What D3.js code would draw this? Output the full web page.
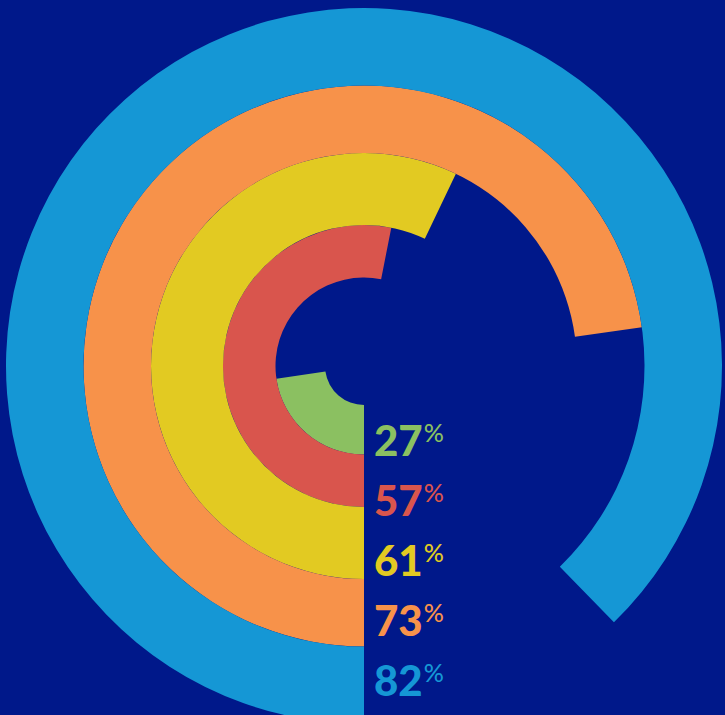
<!DOCTYPE html>
<html>
<head>
<meta charset="utf-8">
<script src="https://cdn.jsdelivr.net/npm/d3@7"></script>
<style>
  html, body { margin: 0; padding: 0; background: #00188a; }
  svg { display: block; }
</style>
</head>
<body>
<div id="chart"></div>
<script>
// values printed next to each ring (inner -> outer)
const labels = [27, 57, 61, 73, 82];
// share of the full circle each ring actually sweeps
const sweeps = [22.7, 53.1, 57.1, 72.8, 87.7];
const colors = ["#8bc061", "#d9554d", "#e2ca22", "#f7924a", "#1597d5"];

const width = 725;
const height = 715;
const cx = 364;
const cy = 366;
// ring boundaries, inner -> outer (rings touch each other)
const edges = [39, 88.5, 141, 213, 280.5, 358];

const svg = d3.select("#chart").append("svg")
  .attr("width", width)
  .attr("height", height);

svg.append("rect").attr("width", width).attr("height", height).attr("fill", "#00188a");

// 0% sits at 6 o'clock, rings run clockwise
const angle = d3.scaleLinear().domain([0, 100]).range([Math.PI, 3 * Math.PI]);
const arc = d3.arc();

const rings = labels.map((v, i) => ({
  value: v,
  sweep: sweeps[i],
  color: colors[i],
  inner: edges[i],
  outer: edges[i + 1]
}));

const g = svg.append("g").attr("transform", `translate(${cx},${cy})`);

g.selectAll("path.ring")
  .data(rings)
  .join("path")
  .attr("class", "ring")
  .attr("fill", d => d.color)
  .attr("d", d => arc({
    innerRadius: d.inner,
    outerRadius: d.outer,
    startAngle: angle(0),
    endAngle: angle(d.sweep)
  }));

// labels stacked down the start edge
const ly = d3.scalePoint().domain(labels.map(String)).range([456, 696]);

const txt = svg.append("g").selectAll("text")
  .data(rings)
  .join("text")
  .attr("x", 374)
  .attr("y", d => ly(String(d.value)))
  .attr("fill", d => d.color)
  .style("font-family", "Lato, 'DejaVu Sans', sans-serif");

txt.append("tspan")
  .attr("font-size", 42)
  .attr("font-weight", 900)
  .text(d => d.value);

txt.append("tspan")
  .attr("font-size", 25)
  .attr("font-weight", 500)
  .attr("dx", 1)
  .attr("dy", -14)
  .text("%");
</script>
</body>
</html>
